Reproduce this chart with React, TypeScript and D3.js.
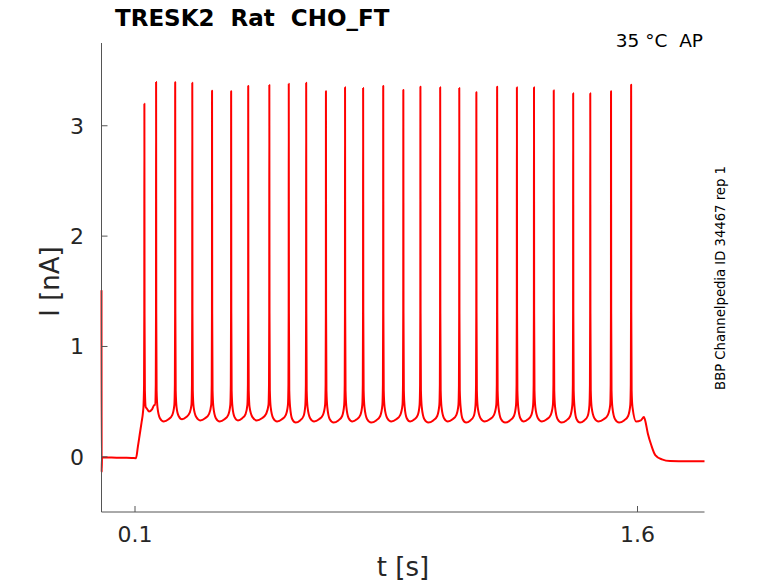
import * as d3 from "d3";

// spike times [s] and peak currents [nA]
const spikeT = [
  0.128, 0.163, 0.22, 0.271, 0.33, 0.387, 0.438, 0.501, 0.559, 0.611, 0.67, 0.727, 0.781, 0.841,
  0.901, 0.952, 1.011, 1.068, 1.119, 1.181, 1.24, 1.291, 1.35, 1.408, 1.459, 1.521, 1.581,
];
const spikePeak = [
  3.2, 3.396, 3.394, 3.39, 3.318, 3.312, 3.36, 3.369, 3.381, 3.39, 3.312, 3.348, 3.342, 3.36,
  3.324, 3.354, 3.348, 3.342, 3.303, 3.354, 3.348, 3.348, 3.321, 3.294, 3.294, 3.312, 3.372,
];
// minimum current between consecutive spikes
const troughI = [
  0.41, 0.32, 0.34, 0.33, 0.32, 0.33, 0.33, 0.32, 0.31, 0.32, 0.31, 0.32, 0.31, 0.32,
  0.32, 0.31, 0.32, 0.31, 0.32, 0.31, 0.32, 0.32, 0.31, 0.31, 0.32, 0.31,
];

// trace before the first spike (artifact, holding, ramp)
const preT = [0, 0.0004, 0.0015, 0.03, 0.06, 0.09, 0.103, 0.1085, 0.114, 0.1195, 0.124];
const preI = [1.51, -0.14, -0.005, -0.006, -0.009, -0.01, -0.012, 0.09, 0.2, 0.31, 0.41];
// trace after the last spike
const postT = [1.596, 1.61, 1.619, 1.622, 1.631, 1.641, 1.653, 1.673, 1.697, 1.75, 1.8];
const postI = [0.32, 0.33, 0.36, 0.34, 0.21, 0.107, 0.016, -0.023, -0.038, -0.04, -0.04];

// spike waveform around the peak
const riseDt = [-0.0025, -0.001, -0.0003];
const riseI = [0.47, 0.65, 1.3];
const fallDt = [0.0005, 0.0015, 0.004];
const fallI = [1.3, 0.6, 0.45];
// interspike shape: fraction of interval, offset from trough
const isiFrac = [0.2, 0.4, 0.65, 0.85];
const isiOff = [0.03, 0, 0.02, 0.06];

const xTicks = [0.1, 1.6];
const yTicks = [0, 1, 2, 3];

const W = 778, H = 583;
const x = d3.scaleLinear().domain([0, 1.8]).range([101.5, 704.5]);
const y = d3.scaleLinear().domain([-0.5, 3.75]).range([512, 43]);

function tracePoints(): [number, number][] {
  const pts: [number, number][] = preT.map((t, i) => [t, preI[i]]);
  spikeT.forEach((ts, k) => {
    riseDt.forEach((dt, j) => pts.push([ts + dt, riseI[j]]));
    pts.push([ts, spikePeak[k]]);
    fallDt.forEach((dt, j) => pts.push([ts + dt, fallI[j]]));
    if (k < spikeT.length - 1) {
      const isi = spikeT[k + 1] - ts;
      isiFrac.forEach((f, j) => pts.push([ts + f * isi, troughI[k] + isiOff[j]]));
    }
  });
  postT.forEach((t, i) => pts.push([t, postI[i]]));
  return pts;
}

const line = d3
  .line<[number, number]>()
  .x((d) => x(d[0]))
  .y((d) => y(d[1]))
  .curve(d3.curveMonotoneX);

const font = "DejaVu Sans, sans-serif";
const ink = "#262626";

export default function App() {
  const d = line(tracePoints()) ?? "";
  const [x0, x1] = x.range();
  const [yb, yt] = y.range();
  return (
    <svg
      width={W}
      height={H}
      style={{ position: "absolute", left: 0, top: 0, background: "#fff" }}
      fontFamily={font}
    >
      <path d={d} fill="none" stroke="#ff0000" strokeWidth={2} strokeLinejoin="round" />

      <line x1={x0} x2={x0} y1={yt} y2={yb} stroke="#555" strokeWidth={1} />
      <line x1={x0} x2={x1} y1={yb} y2={yb} stroke="#555" strokeWidth={1} />

      {yTicks.map((v) => (
        <g key={"y" + v}>
          <line x1={x0} x2={x0 + 6} y1={y(v)} y2={y(v)} stroke="#555" />
          <text x={84} y={y(v)} dy="0.36em" textAnchor="end" fontSize={22} fill={ink}>
            {v}
          </text>
        </g>
      ))}
      {xTicks.map((v) => (
        <g key={"x" + v}>
          <line x1={x(v)} x2={x(v)} y1={yb} y2={yb - 6} stroke="#555" />
          <text x={x(v)} y={542} textAnchor="middle" fontSize={22} fill={ink}>
            {v}
          </text>
        </g>
      ))}

      <text x={(x0 + x1) / 2} y={576} textAnchor="middle" fontSize={26} fill={ink}>
        t [s]
      </text>
      <text
        transform={`translate(58.5, ${(yt + yb) / 2 + 4}) rotate(-90)`}
        textAnchor="middle"
        fontSize={26}
        fill={ink}
      >
        I [nA]
      </text>

      <text x={115} y={26} fontSize={23} fontWeight="bold" fill="#000" xmlSpace="preserve">
        TRESK2  Rat  CHO_FT
      </text>
      <text x={703} y={47} textAnchor="end" fontSize={18.5} fill="#000" xmlSpace="preserve">
        35 °C  AP
      </text>
      <text
        transform="translate(724.5, 278) rotate(-90)"
        textAnchor="middle"
        fontSize={13.2}
        fill="#000"
      >
        BBP Channelpedia ID 34467 rep 1
      </text>
    </svg>
  );
}
